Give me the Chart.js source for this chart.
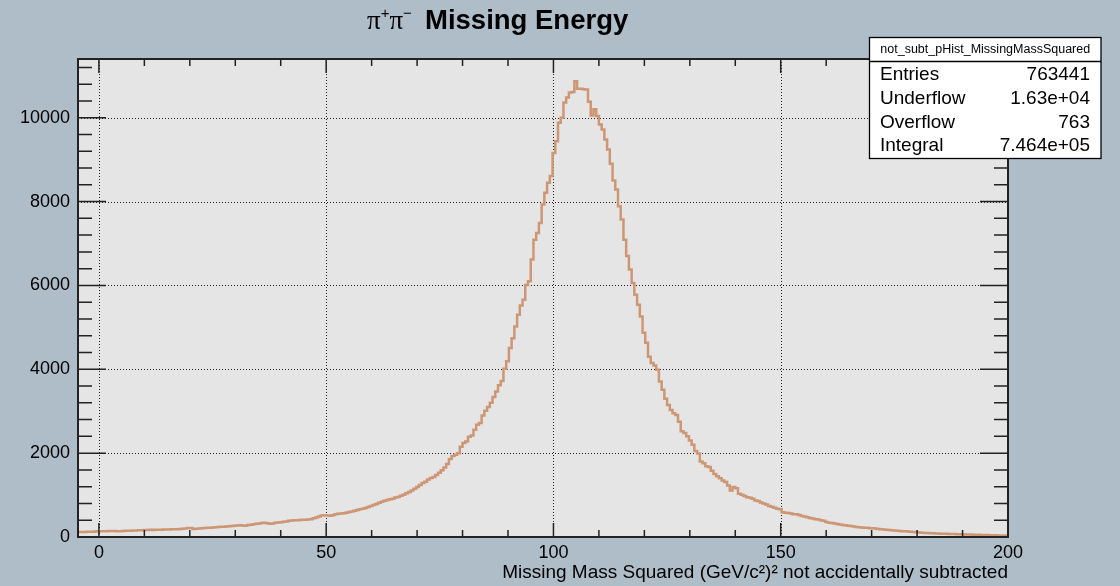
<!DOCTYPE html>
<html><head><meta charset="utf-8">
<script src="https://cdn.jsdelivr.net/npm/chart.js@4.4.1/dist/chart.umd.min.js"></script>
<style>html,body{margin:0;padding:0;background:#afbdc8;overflow:hidden;} #wrap{width:1120px;height:586px;position:relative;}</style>
</head><body><div id="wrap"><canvas id="c" width="1120" height="586"></canvas></div>
<script>
// ---- histogram binning ----
const binLow = -4.6;
const binWidth = 0.6;

// ---- bin contents (341 bins) ----
const countsLeftTail = [120,122,118,125,128,126,132,135,138,136,140,143,141,146,139,138,145,149,147,151,155,153,160,163,166,164,170,168,172,175,171,178,176,180,187,183,185,190,195,205,215];
const countsSlowRise = [212,190,195,205,210,214,218,222,228,235,239,243,246,250,255,262,268,272,280,276,270,285,295,305,315,322,335,342,330,318,322,338,345,352,365,372,385,392,398,402,405,410,414,418,422,450,465,490,515,518];
const countsRise = [512,505,520,540,555,560,566,580,595,608,628,645,660,672,690,718,740,765,790,815,840,862,880,900,915,940,955,985,1010,1045,1075,1110,1150,1195,1240,1290,1320,1370,1410,1430,1480,1530,1590,1660,1740,1860,1930,1960,1995,2150,2240,2280,2390,2420,2560,2680,2720,2900,3010,3100];
const countsSteep = [3200,3340,3470,3620,3720,4010,4190,4510,4740,5020,5300,5520,5660,6010,6100,6620,7090,7250,7490,7930,8210,8450,8610,9160,9440,9880];
const countsPeak = [10000,10360,10480,10600,10610,10870,10690,10690,10680,10670,10380,10050,10200,10040];
const countsFall = [9840,9720,9480,9240,8900,8500,8290,7890,7570,7090,6700,6380,6060,5780,5540,5260,4870,4630,4300,4150,4090,3990,3710,3510,3300,3150,3030,2950,2910,2750,2520,2480,2400,2300,2200];
const countsRightTail = [2050,1990,1800,1760,1690,1670,1580,1505,1450,1400,1350,1310,1230,1110,1190,1160,1030,1010,980,950,935,910,870,860,820,800,775,740,720,700,675,660,590,580,575,560,545,540,525,500,490,470,455,440,425,415,400,385,360,342,335,320,310,300,287,280,270,260,250,240,235,228,222,218,210,207,200,192,185,180,172,167,162,157,150,146,140,136,131,124,118,113,108,103,98,96,92,88,86,83,80,78,76,73,71,69,67,66,64,62,60,58,56,54,52,50,48,47,44,42,40,38,36,34,32];

// ---- axes / annotation text ----
const xTicks = [0, 50, 100, 150, 200];
const yTicks = [0, 2000, 4000, 6000, 8000, 10000];
const xMinorStep = 10;
const yMinorStep = 400;
const xMax = 200;
const yMax = 11400;
const titleMain = 'Missing Energy';
const xTitle = 'Missing Mass Squared (GeV/c\u00b2)\u00b2 not accidentally subtracted';
const histName = 'not_subt_pHist_MissingMassSquared';
const statsLabels = ['Entries', 'Underflow', 'Overflow', 'Integral'];
const statsValues = ['763441', '1.63e+04', '763', '7.464e+05'];

const counts = [].concat(countsLeftTail, countsSlowRise, countsRise, countsSteep, countsPeak, countsFall, countsRightTail);
const points = counts.map((v, i) => ({x: binLow + i * binWidth, y: v}));
points.push({x: binLow + counts.length * binWidth, y: counts[counts.length - 1]});

const SANS = '"Liberation Sans", Arial, Helvetica, sans-serif';
const SERIF = '"Liberation Serif", "Times New Roman", serif';
const BG = '#afbdc8';
const FRAME_BG = '#e5e5e5';

const rootPlugin = {
  id: 'rootStyle',
  beforeDraw(chart) {
    const {ctx, chartArea: a} = chart;
    ctx.save();
    ctx.fillStyle = BG;
    ctx.fillRect(0, 0, chart.width, chart.height);
    ctx.fillStyle = FRAME_BG;
    ctx.fillRect(a.left, a.top, a.right - a.left, a.bottom - a.top);
    ctx.restore();
  },
  beforeDatasetsDraw(chart) {
    const {ctx, chartArea: a, scales: {x, y}} = chart;
    ctx.save();
    ctx.strokeStyle = '#222';
    ctx.lineWidth = 1;
    ctx.setLineDash([1, 2]);
    xTicks.forEach(v => {
      if (v <= x.min || v >= x.max) return;
      const px = Math.round(x.getPixelForValue(v)) + 0.5;
      ctx.beginPath(); ctx.moveTo(px, a.top); ctx.lineTo(px, a.bottom); ctx.stroke();
    });
    yTicks.forEach(v => {
      if (v <= y.min || v >= y.max) return;
      const py = Math.round(y.getPixelForValue(v)) + 0.5;
      ctx.beginPath(); ctx.moveTo(a.left, py); ctx.lineTo(a.right, py); ctx.stroke();
    });
    ctx.restore();
  },
  afterDatasetsDraw(chart) {
    const {ctx, chartArea: a, scales: {x, y}} = chart;
    ctx.save();
    ctx.strokeStyle = '#222';
    ctx.lineWidth = 1.5;
    // x ticks (bottom and top, pointing inward)
    for (let v = 0; v <= x.max + 1e-9; v += xMinorStep) {
      if (v < x.min) continue;
      const major = xTicks.includes(v);
      const len = major ? 14 : 7;
      const px = x.getPixelForValue(v);
      ctx.beginPath();
      ctx.moveTo(px, a.bottom); ctx.lineTo(px, a.bottom - len);
      ctx.moveTo(px, a.top); ctx.lineTo(px, a.top + len);
      ctx.stroke();
    }
    // y ticks (left and right, pointing inward)
    for (let v = 0; v <= y.max; v += yMinorStep) {
      const major = yTicks.includes(v);
      const len = major ? 28 : 14;
      const py = y.getPixelForValue(v);
      ctx.beginPath();
      ctx.moveTo(a.left, py); ctx.lineTo(a.left + len, py);
      ctx.moveTo(a.right, py); ctx.lineTo(a.right - len, py);
      ctx.stroke();
    }
    // frame
    ctx.lineWidth = 2;
    ctx.strokeRect(a.left, a.top, a.right - a.left, a.bottom - a.top);
    ctx.restore();
  },
  afterDraw(chart) {
    const {ctx, chartArea: a} = chart;
    ctx.save();
    ctx.fillStyle = '#000';
    ctx.textBaseline = 'alphabetic';
    // main title: pi+ pi- Missing Energy
    let tx = 367;
    const tb = 29;
    ctx.textAlign = 'left';
    ctx.font = '27px ' + SERIF;
    ctx.fillText('\u03c0', tx, tb); tx += ctx.measureText('\u03c0').width;
    ctx.font = '15px ' + SANS;
    ctx.fillText('+', tx, tb - 11); tx += ctx.measureText('+').width;
    ctx.font = '27px ' + SERIF;
    ctx.fillText('\u03c0', tx, tb); tx += ctx.measureText('\u03c0').width;
    ctx.font = '15px ' + SANS;
    ctx.fillText('\u2212', tx, tb - 11);
    ctx.font = 'bold 27.5px ' + SANS;
    ctx.fillText(titleMain, 425, tb);
    // x axis title
    ctx.font = '19px ' + SANS;
    ctx.textAlign = 'right';
    ctx.fillText(xTitle, a.right, 577.5);
    // stats box
    const bx = 869.5, by = 37.5, bw = 231.5, bh = 121;
    ctx.fillStyle = '#fff';
    ctx.fillRect(bx, by, bw, bh);
    ctx.strokeStyle = '#000';
    ctx.lineWidth = 1.3;
    ctx.strokeRect(bx, by, bw, bh);
    ctx.beginPath(); ctx.moveTo(bx, 61.5); ctx.lineTo(bx + bw, 61.5); ctx.stroke();
    ctx.fillStyle = '#000';
    ctx.font = '12.5px ' + SANS;
    ctx.textAlign = 'center';
    ctx.textBaseline = 'middle';
    ctx.fillText(histName, bx + bw / 2, 50);
    ctx.textBaseline = 'alphabetic';
    ctx.font = '19px ' + SANS;
    const rowBase = [79.5, 103.5, 127.5, 151];
    statsLabels.forEach((lab, i) => {
      ctx.textAlign = 'left';
      ctx.fillText(lab, 880, rowBase[i]);
      ctx.textAlign = 'right';
      ctx.fillText(statsValues[i], 1090, rowBase[i]);
    });
    ctx.restore();
  }
};

new Chart(document.getElementById('c'), {
  type: 'line',
  data: {
    datasets: [{
      data: points,
      stepped: true,
      borderColor: '#cd9674',
      borderWidth: 2.5,
      borderJoinStyle: 'miter',
      borderCapStyle: 'butt',
      pointRadius: 0,
      fill: false,
      tension: 0
    }]
  },
  options: {
    responsive: false,
    animation: false,
    devicePixelRatio: 1,
    events: [],
    layout: {padding: {left: 0, top: 59, right: 112, bottom: 0}},
    plugins: {legend: {display: false}, tooltip: {enabled: false}, title: {display: false}},
    scales: {
      x: {
        type: 'linear', min: binLow, max: xMax,
        grid: {display: false, drawTicks: false},
        border: {display: false},
        ticks: {font: {family: SANS, size: 18}, color: '#000', padding: 5, maxRotation: 0, autoSkip: false, callback: v => String(v)},
        afterBuildTicks: s => { s.ticks = xTicks.map(v => ({value: v})); },
        afterFit: s => { s.height = 49; }
      },
      y: {
        type: 'linear', min: 0, max: yMax,
        grid: {display: false, drawTicks: false},
        border: {display: false},
        ticks: {font: {family: SANS, size: 18}, color: '#000', padding: 8, autoSkip: false, callback: v => String(v)},
        afterBuildTicks: s => { s.ticks = yTicks.map(v => ({value: v})); },
        afterFit: s => { s.width = 78; }
      }
    }
  },
  plugins: [rootPlugin]
});
</script>
</body></html>
